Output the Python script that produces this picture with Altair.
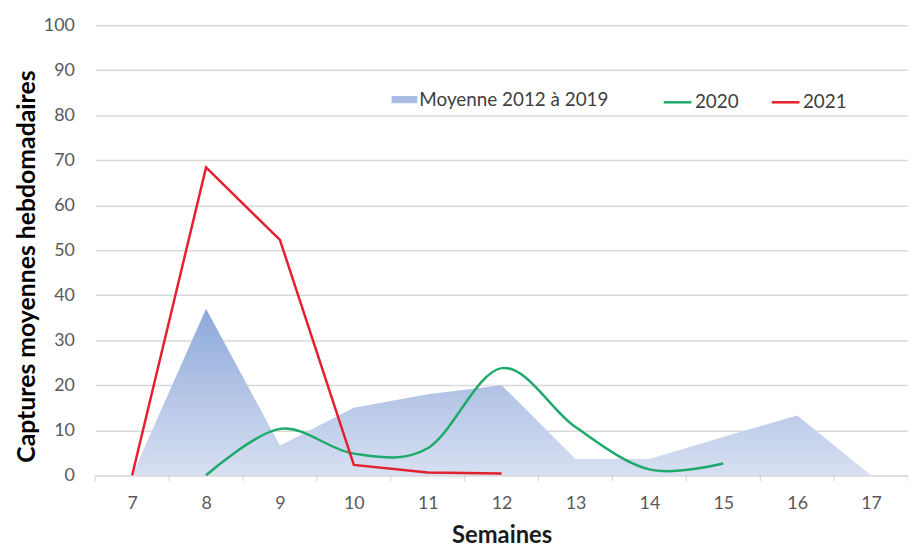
import altair as alt
import pandas as pd

weeks = [7, 8, 9, 10, 11, 12, 13, 14, 15, 16, 17]
moyenne = [0, 37, 6.6, 15, 18, 20, 3.6, 3.6, 8.5, 13.3, 0]

weeks_2020 = [8, 9, 10, 11, 12, 13, 14, 15]
values_2020 = [0, 10.3, 4.8, 6.0, 23.8, 10.7, 1.3, 2.6]

weeks_2021 = [7, 8, 9, 10, 11, 12]
values_2021 = [0, 68.4, 52.3, 2.3, 0.6, 0.4]

y_ticks = list(range(0, 101, 10))
x_labels = list(range(7, 18))
x_ticks = [w + 0.5 for w in range(6, 18)]

area_name = "Moyenne 2012 à 2019"
line_names = ["2020", "2021"]
line_colors = ["#1DAA6A", "#E3202E"]

FONT = "Lato"

df_area = pd.DataFrame({"Semaine": weeks, "Valeur": moyenne})
df_2020 = pd.DataFrame({"Semaine": weeks_2020, "Valeur": values_2020, "Serie": "2020"})
df_2021 = pd.DataFrame({"Semaine": weeks_2021, "Valeur": values_2021, "Serie": "2021"})

xscale = alt.Scale(domain=[6.5, 17.5], nice=False, zero=False)
yscale = alt.Scale(domain=[0, 100], nice=False)

X = alt.X("Semaine:Q", scale=xscale, title="Semaines")
Y = alt.Y("Valeur:Q", scale=yscale, title="Captures moyennes hebdomadaires")

area = alt.Chart(df_area).mark_area(
    interpolate="linear",
    fill=alt.Gradient(
        gradient="linear",
        stops=[alt.GradientStop(color="#8DA8DA", offset=0),
               alt.GradientStop(color="#D8E0F2", offset=1)],
        x1=0, x2=0, y1=0, y2=1,
    ),
).encode(
    x=alt.X("Semaine:Q", scale=xscale,
            axis=alt.Axis(values=x_labels, format="d", title="Semaines", ticks=False,
                          grid=False, domain=True, domainColor="#D9D9D9", domainWidth=1.5,
                          labelFont=FONT, labelFontSize=18, labelColor="#595959",
                          labelPadding=20, titleFont=FONT, titleFontSize=24,
                          titleFontWeight="bold", titleColor="#1A1A1A", titlePadding=11)),
    y=alt.Y("Valeur:Q", scale=yscale,
            axis=alt.Axis(values=y_ticks, format="d", title="Captures moyennes hebdomadaires",
                          ticks=False, domain=False, grid=True, gridColor="#D9D9D9",
                          gridWidth=1.5, labelFont=FONT, labelFontSize=18,
                          labelColor="#595959", labelPadding=21, titleFont=FONT,
                          titleFontSize=25, titleFontWeight="bold", titleColor="#000000",
                          titlePadding=4, titleY=243)),
)

tick_axis = alt.Chart(pd.DataFrame({"Semaine": x_ticks})).mark_tick(
    orient="vertical", color="#BFBFBF", thickness=1, size=6
).encode(
    x=X,
    y=alt.value(457),
)

area_legend = alt.Chart(pd.DataFrame({"Serie": [area_name], "Semaine": [7], "Valeur": [0]})).mark_square(
    opacity=0, size=1
).encode(
    x=X, y=Y,
    fill=alt.Fill(
        "Serie:N",
        scale=alt.Scale(domain=[area_name], range=["#A9BDE3"]),
        legend=alt.Legend(
            title=None, orient="none", direction="horizontal", legendX=299, legendY=62,
            symbolType="M-1,-0.28H1V0.28H-1Z", symbolSize=676, symbolOpacity=1,
            symbolStrokeWidth=0,
            labelFont=FONT, labelFontSize=19, labelColor="#404040", labelOffset=2,
            labelLimit=400,
        ),
    ),
)

stroke_enc = alt.Stroke(
    "Serie:N",
    scale=alt.Scale(domain=line_names, range=line_colors),
    legend=alt.Legend(
        title=None, orient="none", direction="horizontal", legendX=572, legendY=62,
        symbolType="stroke", symbolSize=784, symbolStrokeWidth=2.5, symbolOpacity=1,
        labelFont=FONT, labelFontSize=19, labelColor="#404040", labelOffset=2,
        labelLimit=400, columnPadding=27,
    ),
)

line_2020 = alt.Chart(df_2020).mark_line(
    interpolate="cardinal", strokeWidth=2.5
).encode(x=X, y=Y, stroke=stroke_enc)

line_2021 = alt.Chart(df_2021).mark_line(
    interpolate="linear", strokeWidth=2.5
).encode(x=X, y=Y, stroke=stroke_enc)

chart = alt.layer(area, tick_axis, area_legend, line_2020, line_2021).properties(
    width=820, height=454,
    autosize=alt.AutoSizeParams(type="none"),
    padding={"left": 88, "top": 15, "right": 0, "bottom": 70},
).configure(background="white").configure_view(stroke=None)

chart.save("out.html", embed_options={"renderer": "svg", "actions": False})
